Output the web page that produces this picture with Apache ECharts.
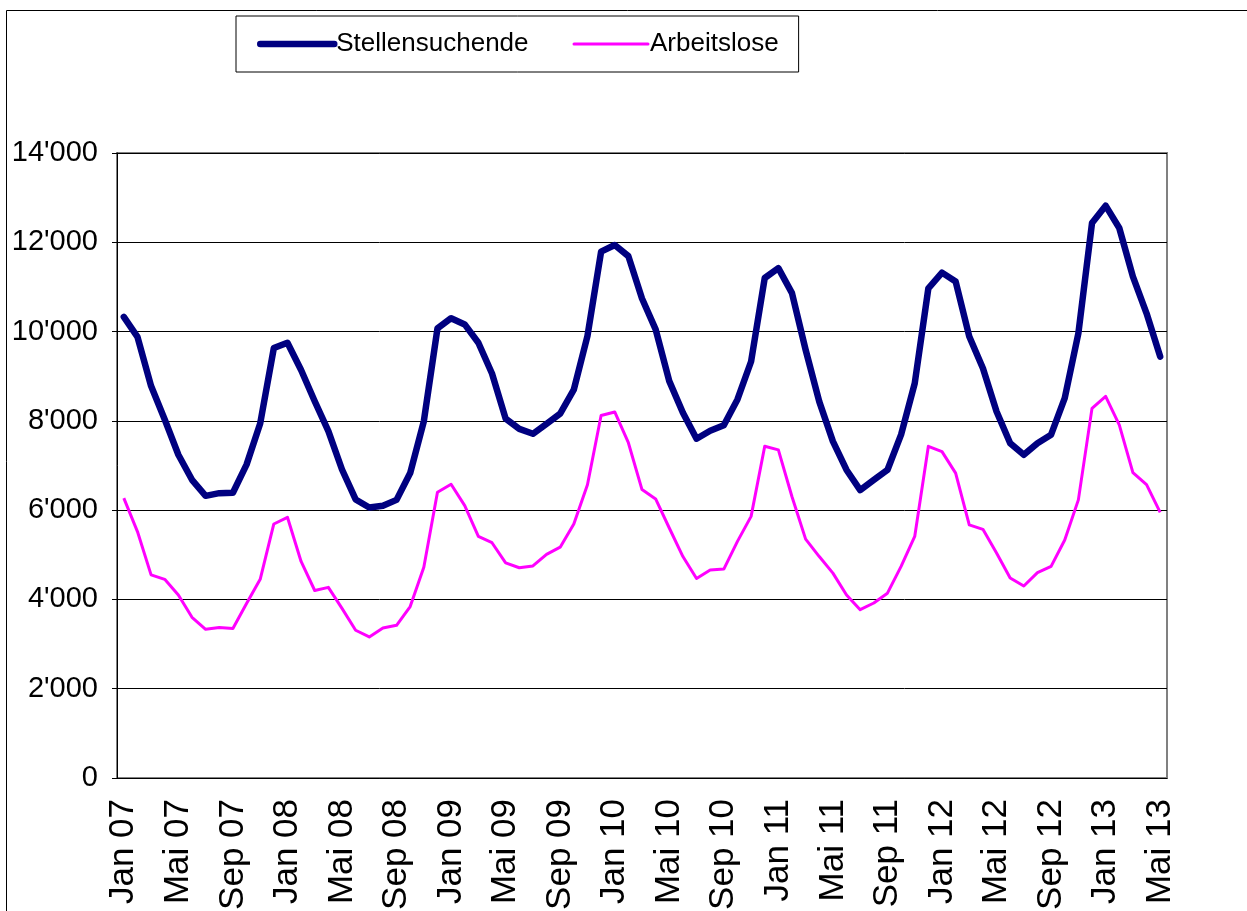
<!DOCTYPE html>
<html>
<head>
<meta charset="utf-8">
<script src="https://cdn.jsdelivr.net/npm/echarts@6/dist/echarts.min.js"></script>
<style>
html,body{margin:0;padding:0;background:#fff;}
#chart{width:1247px;height:911px;}
</style>
</head>
<body>
<div id="chart"></div>
<script>
const categories = [
 'Jan 07','Feb 07','Mär 07','Apr 07','Mai 07','Jun 07','Jul 07','Aug 07','Sep 07','Okt 07','Nov 07','Dez 07',
 'Jan 08','Feb 08','Mär 08','Apr 08','Mai 08','Jun 08','Jul 08','Aug 08','Sep 08','Okt 08','Nov 08','Dez 08',
 'Jan 09','Feb 09','Mär 09','Apr 09','Mai 09','Jun 09','Jul 09','Aug 09','Sep 09','Okt 09','Nov 09','Dez 09',
 'Jan 10','Feb 10','Mär 10','Apr 10','Mai 10','Jun 10','Jul 10','Aug 10','Sep 10','Okt 10','Nov 10','Dez 10',
 'Jan 11','Feb 11','Mär 11','Apr 11','Mai 11','Jun 11','Jul 11','Aug 11','Sep 11','Okt 11','Nov 11','Dez 11',
 'Jan 12','Feb 12','Mär 12','Apr 12','Mai 12','Jun 12','Jul 12','Aug 12','Sep 12','Okt 12','Nov 12','Dez 12',
 'Jan 13','Feb 13','Mär 13','Apr 13','Mai 13'
];
const stellensuchende = [
 10330, 9880, 8780, 8030, 7240, 6680, 6320, 6380, 6390, 7020, 7940, 9630,
 9750, 9140, 8440, 7770, 6910, 6240, 6060, 6100, 6230, 6830, 7990, 10070,
 10300, 10160, 9750, 9060, 8050, 7820, 7710, 7930, 8160, 8700, 9900, 11790,
 11940, 11690, 10740, 10050, 8890, 8180, 7600, 7780, 7900, 8480, 9330, 11200,
 11420, 10860, 9590, 8430, 7540, 6900, 6450, 6680, 6900, 7690, 8840, 10970,
 11320, 11120, 9890, 9180, 8210, 7500, 7240, 7500, 7690, 8510, 9960, 12430,
 12820, 12320, 11230, 10410, 9440
];
const arbeitslose = [
 6270, 5520, 4550, 4450, 4100, 3600, 3330, 3370, 3350, 3910, 4450, 5690,
 5840, 4850, 4200, 4270, 3800, 3310, 3160, 3360, 3420, 3840, 4720, 6400,
 6580, 6100, 5410, 5270, 4820, 4710, 4750, 5010, 5170, 5690, 6570, 8120,
 8200, 7510, 6460, 6250, 5600, 4960, 4470, 4660, 4680, 5300, 5860, 7430,
 7350, 6300, 5350, 4960, 4590, 4100, 3770, 3920, 4140, 4740, 5410, 7430,
 7310, 6830, 5670, 5570, 5040, 4480, 4300, 4600, 4740, 5330, 6230, 8280,
 8550, 7910, 6840, 6570, 5950
];
const seriesNames = ['Stellensuchende', 'Arbeitslose'];

const FONT = '"Liberation Sans", Arial, sans-serif';
function fmt(v){
  if (v === 0) return '0';
  const s = String(Math.round(v));
  return s.replace(/\B(?=(\d{3})+(?!\d))/g, "'");
}

const chart = echarts.init(document.getElementById('chart'), null, {renderer:'canvas'});
chart.setOption({
  backgroundColor: '#ffffff',
  animation: false,
  graphic: [{
    type: 'rect', left: 4, top: 8, silent: true,
    shape: {width: 1300, height: 1000},
    style: {fill: 'none', stroke: '#000', lineWidth: 1}
  }],
  legend: {
    left: 236, top: 16,
    padding: [13, 20, 13, 21],
    borderColor: '#000', borderWidth: 1,
    itemWidth: 74, itemHeight: 14, itemGap: 44,
    textStyle: {fontFamily: FONT, fontSize: 26, color: '#000', lineHeight: 30, padding: [0,0,0,-3]},
    lineStyle: {width: 'inherit', cap: 'round'},
    itemStyle: {opacity: 0},
    data: seriesNames
  },
  grid: {
    left: 117, top: 153, right: 80, bottom: 133,
    outerBoundsMode: 'none', containLabel: false,
    show: true, borderColor: '#808080', borderWidth: 2
  },
  xAxis: {
    type: 'category',
    data: categories,
    boundaryGap: true,
    axisLine: {lineStyle: {color: '#000', width: 1}},
    axisTick: {interval: 0, length: 6, lineStyle: {color: '#000'}},
    axisLabel: {
      interval: 3, rotate: 90, margin: 21,
      fontFamily: FONT, fontSize: 35, color: '#000'
    },
    splitLine: {show: false}
  },
  yAxis: {
    type: 'value',
    min: 0, max: 14000, interval: 2000,
    axisLine: {show: true, lineStyle: {color: '#000', width: 1}},
    axisTick: {show: true, length: 5, lineStyle: {color: '#000'}},
    axisLabel: {margin: 19, fontFamily: FONT, fontSize: 29, color: '#000', formatter: fmt},
    splitLine: {show: true, lineStyle: {color: '#000', width: 1}}
  },
  series: [
    {
      name: seriesNames[0], type: 'line', data: stellensuchende,
      symbol: 'none', smooth: false,
      lineStyle: {color: '#000080', width: 6.5, cap: 'round', join: 'round'},
      itemStyle: {color: '#000080'}, z: 3
    },
    {
      name: seriesNames[1], type: 'line', data: arbeitslose,
      symbol: 'none', smooth: false,
      lineStyle: {color: '#ff00ff', width: 3, join: 'round'},
      itemStyle: {color: '#ff00ff'}, z: 2
    }
  ]
});
</script>
</body>
</html>
